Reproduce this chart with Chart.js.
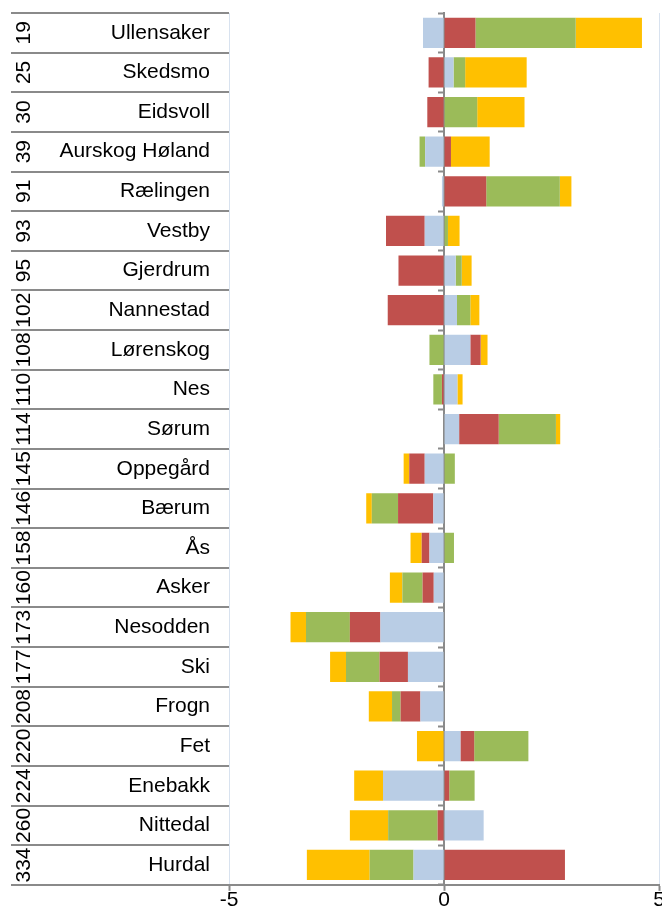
<!DOCTYPE html>
<html>
<head>
<meta charset="utf-8">
<script src="https://cdn.jsdelivr.net/npm/chart.js@4.4.1/dist/chart.umd.min.js"></script>
<style>
    html, body { margin: 0; padding: 0; background: #ffffff; }
    #contenedor { width: 662px; height: 917px; position: relative; }
</style>
</head>
<body>
<div id="contenedor"><canvas id="kommuneChart"></canvas></div>
<script>
// Datos del gráfico
const kommuner = ['Ullensaker', 'Skedsmo', 'Eidsvoll', 'Aurskog Høland', 'Rælingen', 'Vestby',
    'Gjerdrum', 'Nannestad', 'Lørenskog', 'Nes', 'Sørum', 'Oppegård', 'Bærum', 'Ås', 'Asker',
    'Nesodden', 'Ski', 'Frogn', 'Fet', 'Enebakk', 'Nittedal', 'Hurdal'];
const rangering = ['19', '25', '30', '39', '91', '93', '95', '102', '108', '110', '114',
    '145', '146', '158', '160', '173', '177', '208', '220', '224', '260', '334'];

const serieAzul     = [-0.49, 0.22, 0, -0.44, -0.05, -0.45, 0.27, 0.30, 0.61, 0.31, 0.35,
    -0.45, -0.25, -0.34, -0.24, -1.48, -0.84, -0.55, 0.38, -1.42, 0.92, -0.71];
const serieRoja     = [0.73, -0.36, -0.39, 0.16, 0.98, -0.90, -1.06, -1.31, 0.24, -0.05, 0.92,
    -0.36, -0.82, -0.18, -0.26, -0.71, -0.66, -0.46, 0.32, 0.12, -0.15, 2.81];
const serieVerde    = [2.33, 0.27, 0.77, -0.13, 1.71, 0.09, 0.14, 0.31, -0.34, -0.20, 1.33,
    0.25, -0.61, 0.23, -0.47, -1.02, -0.78, -0.20, 1.26, 0.59, -1.15, -1.02];
const serieAmarilla = [1.54, 1.43, 1.10, 0.90, 0.27, 0.27, 0.23, 0.21, 0.16, 0.12, 0.10,
    -0.13, -0.13, -0.26, -0.29, -0.36, -0.37, -0.54, -0.63, -0.67, -0.89, -1.46];

const ticksX = [-5, 0, 5];

window.kommuneChartInstance = null;

const FUENTE = '"Liberation Sans", Arial, sans-serif';
const GRIS = '#8a8a8a';

// Plugin para dibujar la tabla de etiquetas (número + nombre) a la izquierda
const tablaEtiquetas = {
    id: 'tablaEtiquetas',
    afterDraw(chart) {
        const ctx = chart.ctx;
        const area = chart.chartArea;
        const yScale = chart.scales.y;
        const mitad = (area.bottom - area.top) / kommuner.length / 2;
        const xIni = 11;

        ctx.save();
        ctx.strokeStyle = GRIS;
        ctx.lineWidth = 2;
        for (let i = 0; i <= kommuner.length; i++) {
            const y = Math.round(area.top + i * mitad * 2);
            ctx.beginPath();
            ctx.moveTo(xIni, y);
            ctx.lineTo(area.left, y);
            ctx.stroke();
        }

        ctx.fillStyle = '#000000';
        ctx.font = '21px ' + FUENTE;
        kommuner.forEach((nombre, i) => {
            const yc = yScale.getPixelForValue(i);
            ctx.textAlign = 'right';
            ctx.textBaseline = 'middle';
            ctx.fillText(nombre, 210, yc);

            ctx.save();
            ctx.translate(24, yc);
            ctx.rotate(-Math.PI / 2);
            ctx.textAlign = 'center';
            ctx.fillText(rangering[i], 0, 0);
            ctx.restore();
        });
        ctx.restore();
    }
};

function initKommuneChart() {
    try {
        const ctx = document.getElementById('kommuneChart').getContext('2d');
        if (window.kommuneChartInstance) window.kommuneChartInstance.destroy();

        const comun = { borderWidth: 0, barPercentage: 0.764, categoryPercentage: 1 };

        window.kommuneChartInstance = new Chart(ctx, {
            type: 'bar',
            data: {
                labels: kommuner,
                datasets: [
                    { ...comun, label: 'Serie 1', data: serieAzul, backgroundColor: '#B9CDE5' },
                    { ...comun, label: 'Serie 2', data: serieRoja, backgroundColor: '#C0504D' },
                    { ...comun, label: 'Serie 3', data: serieVerde, backgroundColor: '#9BBB59' },
                    { ...comun, label: 'Serie 4', data: serieAmarilla, backgroundColor: '#FFC000' }
                ]
            },
            options: {
                indexAxis: 'y',
                responsive: true,
                maintainAspectRatio: false,
                animation: false,
                layout: { padding: { left: 229, top: 13, right: 0, bottom: 7 } },
                plugins: {
                    legend: { display: false },
                    tooltip: { enabled: false }
                },
                scales: {
                    x: {
                        stacked: true,
                        min: -5,
                        max: 5,
                        afterBuildTicks: (scale) => {
                            scale.ticks = ticksX.map(v => ({ value: v }));
                        },
                        grid: {
                            color: '#D8E2EF',
                            lineWidth: 1,
                            tickColor: GRIS,
                            tickWidth: 2,
                            tickLength: 6
                        },
                        border: { color: GRIS, width: 2 },
                        ticks: {
                            color: '#000000',
                            padding: -3,
                            font: { family: FUENTE, size: 21 }
                        }
                    },
                    y: {
                        stacked: true,
                        position: { x: 0 },
                        z: 1,
                        grid: {
                            offset: true,
                            drawOnChartArea: false,
                            color: GRIS,
                            tickWidth: 2,
                            tickLength: 5
                        },
                        border: { color: GRIS, width: 2 },
                        ticks: { display: false }
                    }
                }
            },
            plugins: [tablaEtiquetas]
        });
    } catch (error) {
        console.error('Error al inicializar el gráfico:', error);
    }
}

if (document.readyState === 'loading') {
    document.addEventListener('DOMContentLoaded', initKommuneChart);
} else {
    initKommuneChart();
}
</script>
</body>
</html>
